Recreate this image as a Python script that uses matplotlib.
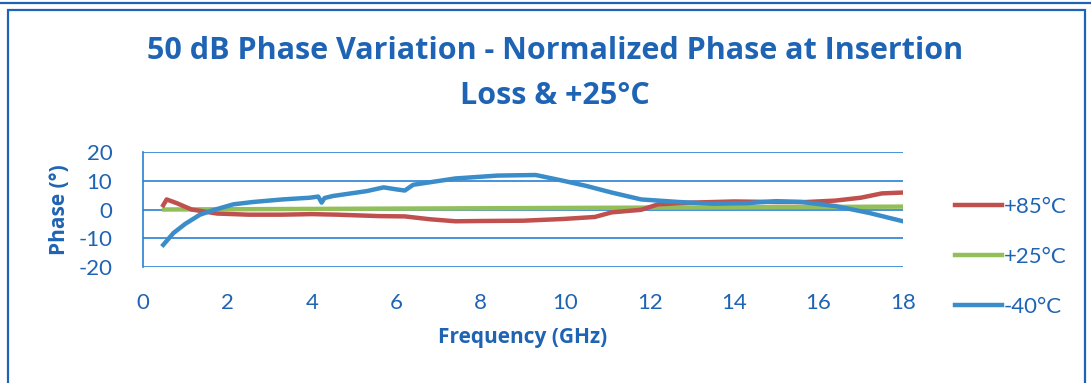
import matplotlib
matplotlib.use("Agg")
import matplotlib.pyplot as plt
from matplotlib.patches import Rectangle
from matplotlib.lines import Line2D

plt.rcParams['font.family'] = ['Lato', 'DejaVu Sans']
plt.rcParams['axes.unicode_minus'] = False

# Data
freq_85 = [0.48, 0.56, 0.8, 1.15, 1.75, 2.5, 3.3, 4.0, 4.6, 5.6, 6.2, 6.8, 7.4, 8.0, 9.0, 9.95, 10.7, 11.1, 11.8, 12.2, 13.0, 14.0, 15.0, 15.7, 16.4, 17.0, 17.5, 18.0]
phase_85 = [1.5, 3.5, 2.2, 0.0, -1.4, -1.8, -1.8, -1.6, -1.8, -2.3, -2.4, -3.4, -4.1, -4.0, -3.9, -3.3, -2.6, -1.0, -0.1, 1.8, 2.4, 2.8, 2.6, 2.6, 3.1, 4.1, 5.6, 5.9]

freq_25 = [0.5, 18.0]
phase_25 = [0.0, 1.0]

freq_m40 = [0.48, 0.72, 1.0, 1.35, 1.67, 2.14, 2.6, 3.3, 3.95, 4.15, 4.23, 4.3, 4.5, 5.3, 5.7, 6.0, 6.2, 6.4, 7.4, 8.4, 9.3, 9.95, 10.5, 11.1, 11.8, 12.7, 13.5, 14.3, 15.0, 15.6, 16.4, 17.2, 18.0]
phase_m40 = [-12.3, -8.2, -5.0, -1.8, -0.2, 1.8, 2.6, 3.5, 4.1, 4.5, 2.4, 4.0, 4.7, 6.4, 7.7, 7.0, 6.6, 8.6, 10.8, 11.8, 12.0, 10.0, 8.2, 5.9, 3.5, 2.6, 2.0, 2.2, 2.9, 2.6, 1.2, -1.2, -4.1]

series_labels = ['+85°C', '+25°C', '-40°C']
x_ticks = [0, 2, 4, 6, 8, 10, 12, 14, 16, 18]
y_ticks = [-20, -10, 0, 10, 20]

C_RED = '#c0504d'
C_GREEN = '#92bf5a'
C_BLUE = '#3a8dc8'
C_TEXT = '#1f64b4'
C_GRID = '#2a80d4'
BOLD = ['Open Sans', 'DejaVu Sans']

fig = plt.figure(figsize=(10.91, 3.83), dpi=100)
fig.patch.set_facecolor('white')

# scanned frame
fig.add_artist(Rectangle((8 / 1091, -0.1), 1077 / 1091, 1.1 - 10 / 383,
                         transform=fig.transFigure, fill=False, ec=C_TEXT, lw=1.6))
fig.add_artist(Line2D([0, 1], [1 - 3 / 383, 1 - 3 / 383], transform=fig.transFigure,
                      color=C_TEXT, lw=1.6))

ax = fig.add_axes([143 / 1091, 1 - 267 / 383, 760 / 1091, 115 / 383])

ax.plot(freq_85, phase_85, color=C_RED, lw=3.2, label=series_labels[0], zorder=3)
ax.plot(freq_25, phase_25, color=C_GREEN, lw=3.2, label=series_labels[1], zorder=2)
ax.plot(freq_m40, phase_m40, color=C_BLUE, lw=3.2, label=series_labels[2], zorder=4)

ax.set_xlim(0, 18)
ax.set_ylim(-20, 20)
ax.set_xticks(x_ticks)
ax.set_yticks(y_ticks)
ax.grid(axis='y', color=C_GRID, lw=1.2)
ax.set_axisbelow(True)
for side in ['top', 'right', 'bottom']:
    ax.spines[side].set_visible(False)
ax.spines['left'].set_color(C_GRID)
ax.spines['left'].set_linewidth(1.2)
ax.tick_params(length=0, colors=C_TEXT, labelsize=16)
ax.tick_params(axis='x', pad=19)
ax.tick_params(axis='y', pad=22)

ax.set_xlabel('Frequency (GHz)', color=C_TEXT, fontsize=15, fontweight='bold',
              family=BOLD, labelpad=10)
ax.set_ylabel('Phase (°)', color=C_TEXT, fontsize=15, fontweight='bold',
              family=BOLD, labelpad=6)

fig.text(555 / 1091, 1 - 51 / 383, '50 dB Phase Variation - Normalized Phase at Insertion',
         ha='center', va='center', color=C_TEXT, fontsize=22, fontweight='bold', family=BOLD)
fig.text(555 / 1091, 1 - 96 / 383, 'Loss & +25°C',
         ha='center', va='center', color=C_TEXT, fontsize=22, fontweight='bold', family=BOLD)

leg = ax.legend(loc='upper left', bbox_to_anchor=(1.057, 0.69), frameon=False,
                fontsize=16, handlelength=2.1, handletextpad=0.1, labelspacing=1.35,
                borderaxespad=0)
for t in leg.get_texts():
    t.set_color(C_TEXT)

fig.savefig('out.png', dpi=100)
